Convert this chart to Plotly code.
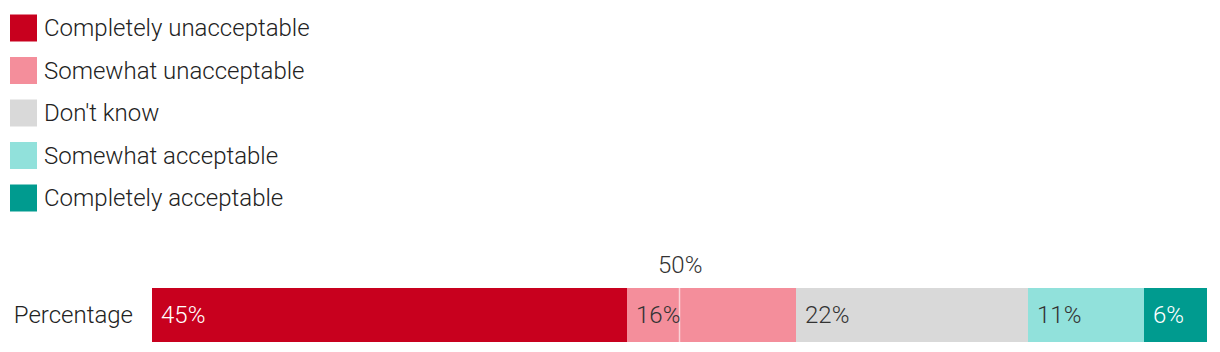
import plotly.graph_objects as go

categories = ["Completely unacceptable", "Somewhat unacceptable", "Don't know",
              "Somewhat acceptable", "Completely acceptable"]
values = [45, 16, 22, 11, 6]
colors = ["#c8001e", "#f48e9b", "#d9d9d9", "#91e1db", "#009b8f"]
label_colors = ["#ffffff", "#333333", "#333333", "#333333", "#ffffff"]
row_label = "Percentage"
midpoint = 50

W, H = 1220, 352
FONT = "Roboto"
FS = 24
WT = 300

fig = go.Figure()
start = 0
for cat, v, c in zip(categories, values, colors):
    fig.add_trace(go.Bar(
        x=[v], y=[row_label], base=[start], orientation="h", name=cat,
        marker=dict(color=c, line=dict(width=0)), showlegend=False,
        hoverinfo="skip"))
    start += v

annotations = []
shapes = []
start = 0
for v, lc in zip(values, label_colors):
    annotations.append(dict(x=start, y=row_label, xref="x", yref="y",
                            text=f"{v}%", showarrow=False, xanchor="left",
                            xshift=7, font=dict(family=FONT, size=FS, color=lc, weight=WT)))
    start += v

# midpoint marker
shapes.append(dict(type="line", xref="x", yref="y", x0=midpoint, x1=midpoint,
                   y0=-0.5, y1=0.5, line=dict(color="rgba(255,255,255,0.6)", width=1.5)))
annotations.append(dict(x=midpoint, y=0.5, xref="x", yref="y", text=f"{midpoint}%",
                        showarrow=False, yanchor="bottom", yshift=7,
                        font=dict(family=FONT, size=FS, color="#333333", weight=WT)))

# custom legend
for i, (cat, c) in enumerate(zip(categories, colors)):
    cy = 28 + i * 42.5
    shapes.append(dict(type="rect", xref="paper", yref="paper",
                       x0=10 / W, x1=37 / W, y0=1 - (cy + 13.5) / H, y1=1 - (cy - 13.5) / H,
                       fillcolor=c, line=dict(width=0)))
    annotations.append(dict(x=42 / W, y=1 - cy / H, xref="paper", yref="paper",
                            text=cat, showarrow=False, xanchor="left", yanchor="middle",
                            font=dict(family=FONT, size=FS, color="#222222", weight=WT)))

fig.update_layout(
    width=W, height=H, margin=dict(l=0, r=0, t=0, b=0),
    paper_bgcolor="white", plot_bgcolor="white", barmode="overlay", bargap=0,
    showlegend=False, font=dict(family=FONT, size=FS, color="#222222", weight=WT),
    xaxis=dict(domain=[152 / W, 1207 / W], range=[0, 100], visible=False, fixedrange=True),
    yaxis=dict(domain=[10 / H, 64 / H], range=[-0.5, 0.5], showgrid=False, zeroline=False,
               showline=False, ticks="", ticklabelstandoff=18,
               tickfont=dict(family=FONT, size=FS, color="#222222", weight=WT)),
    annotations=annotations, shapes=shapes,
)
fig.write_html("out.html")
